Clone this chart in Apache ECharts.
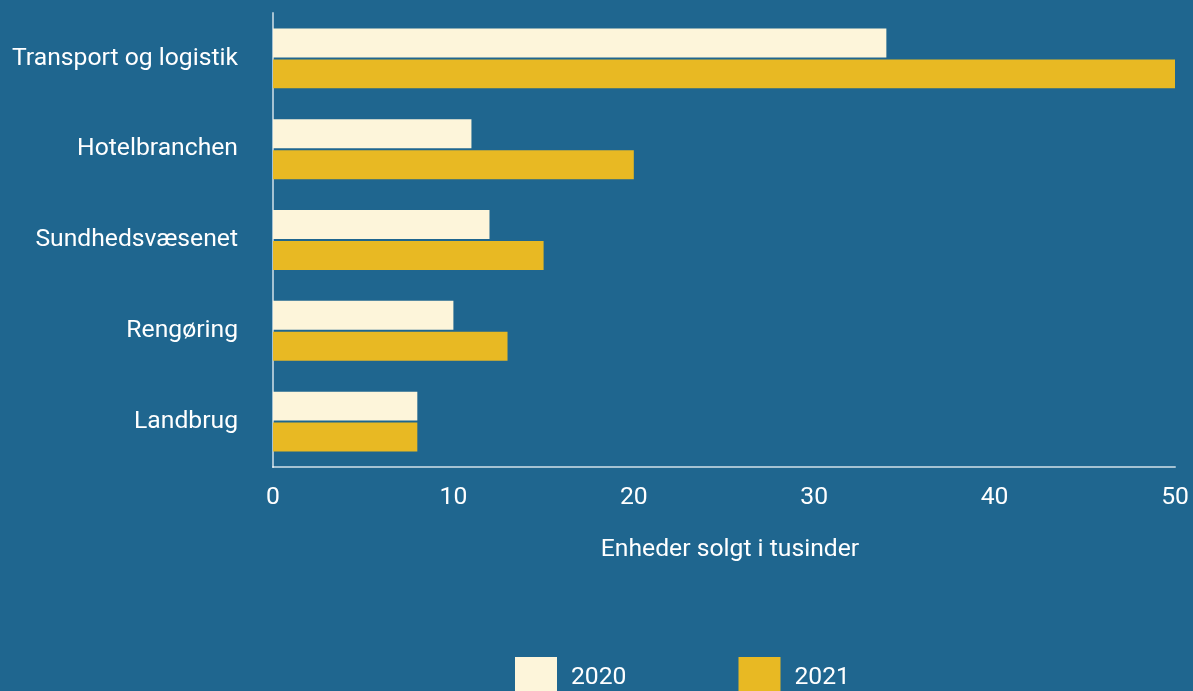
<!DOCTYPE html>
<html>
<head>
<meta charset="utf-8">
<script src="https://cdn.jsdelivr.net/npm/echarts@6/dist/echarts.min.js"></script>
<style>
  html, body { margin: 0; padding: 0; background: #1f668f; }
  #chart { width: 1193px; height: 691px; }
</style>
</head>
<body>
<div id="chart"></div>
<script>
var categories = ['Landbrug', 'Rengøring', 'Sundhedsvæsenet', 'Hotelbranchen', 'Transport og logistik'];
var values2020 = [8, 10, 12, 11, 34];
var values2021 = [8, 13, 15, 20, 50];
var xTicks = [0, 10, 20, 30, 40, 50];

var chart = echarts.init(document.getElementById('chart'));
var axisCol = 'rgba(255,255,255,0.6)';
var font = 'Roboto, sans-serif';
var fs = 24.7;

chart.setOption({
    backgroundColor: '#1f668f',
    animation: false,
    grid: {left: 273, right: 18, top: 13, height: 454},
    xAxis: {
        type: 'value',
        min: xTicks[0],
        max: xTicks[xTicks.length - 1],
        interval: 10,
        name: 'Enheder solgt i tusinder',
        nameLocation: 'middle',
        nameGap: 70,
        nameTextStyle: {color: '#fff', fontSize: fs, fontFamily: font, padding: [0, 0, 0, 12]},
        axisLine: {show: true, lineStyle: {color: axisCol, width: 2}},
        axisTick: {show: false},
        splitLine: {show: false},
        axisLabel: {color: '#fff', fontSize: fs, fontFamily: font, margin: 18}
    },
    yAxis: {
        type: 'category',
        data: categories,
        axisLine: {show: true, lineStyle: {color: axisCol, width: 2}},
        axisTick: {show: false},
        axisLabel: {color: '#fff', fontSize: fs, fontFamily: font, margin: 35}
    },
    legend: {
        left: 515,
        top: 657,
        padding: 0,
        itemWidth: 42,
        itemHeight: 42,
        itemGap: 112,
        icon: 'rect',
        textStyle: {color: '#fff', fontSize: fs, fontFamily: font, padding: [0, 0, 0, 9]},
        data: ['2020', '2021']
    },
    series: [
        {name: '2020', type: 'bar', data: values2020, itemStyle: {color: '#fdf5da'},
         barCategoryGap: '34%', barGap: '7%'},
        {name: '2021', type: 'bar', data: values2021, itemStyle: {color: '#e8b923'},
         barCategoryGap: '34%', barGap: '7%'}
    ]
});
</script>
</body>
</html>
